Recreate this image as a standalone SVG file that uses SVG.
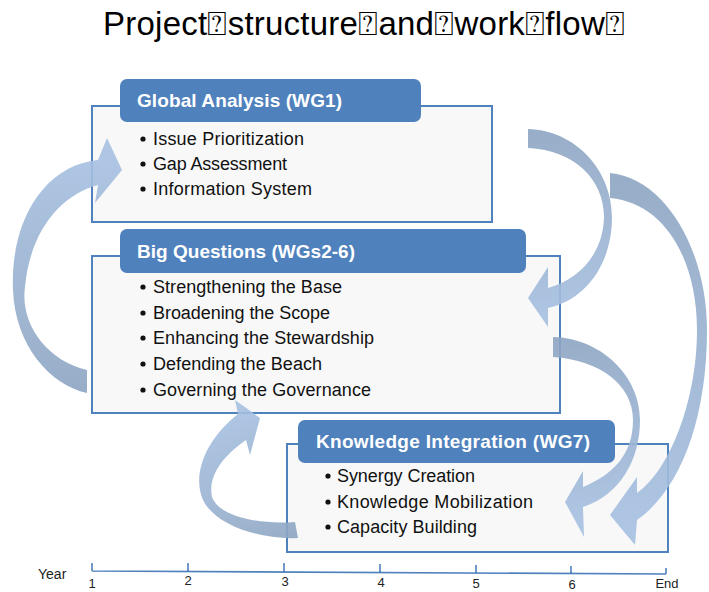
<svg xmlns="http://www.w3.org/2000/svg" width="709" height="592" viewBox="0 0 709 592">
<style>
  .title{font-family:"Liberation Sans",Arial,sans-serif;font-size:33px;fill:#000}
  .frame{fill:#f8f8f8;stroke:#4f81bd;stroke-width:2}
  .hdr{fill:#4f81bd}
  .hdrt{font-family:"Liberation Sans",Arial,sans-serif;font-size:19px;font-weight:bold;fill:#fff}
  .item{font-family:"Liberation Sans",Arial,sans-serif;font-size:18px;fill:#111}
  .dot{fill:#111}
  .arr{fill-opacity:0.9}
  .axis{stroke:#4f81bd;stroke-width:1.6;fill:none}
  .yr{font-family:"Liberation Sans",Arial,sans-serif;font-size:14px;fill:#222}
  .num{font-family:"Liberation Sans",Arial,sans-serif;font-size:13px;fill:#222;text-anchor:middle}
</style>
<defs>
  <linearGradient id="gA" gradientUnits="userSpaceOnUse" x1="87" y1="390" x2="100" y2="160"><stop offset="0" stop-color="#8da5c2"/><stop offset="1" stop-color="#a6c0e1"/></linearGradient>
  <linearGradient id="gB" gradientUnits="userSpaceOnUse" x1="298" y1="535" x2="240" y2="410"><stop offset="0" stop-color="#8da5c2"/><stop offset="1" stop-color="#a6c0e1"/></linearGradient>
  <linearGradient id="gC" gradientUnits="userSpaceOnUse" x1="540" y1="130" x2="540" y2="320"><stop offset="0" stop-color="#8da5c2"/><stop offset="1" stop-color="#a6c0e1"/></linearGradient>
  <linearGradient id="gD" gradientUnits="userSpaceOnUse" x1="640" y1="180" x2="640" y2="530"><stop offset="0" stop-color="#8da5c2"/><stop offset="1" stop-color="#a6c0e1"/></linearGradient>
  <linearGradient id="gE" gradientUnits="userSpaceOnUse" x1="560" y1="340" x2="570" y2="520"><stop offset="0" stop-color="#8da5c2"/><stop offset="1" stop-color="#a6c0e1"/></linearGradient>
</defs>
<rect width="709" height="592" fill="#fff"/>
<text class="title" x="103" y="35" textLength="522">Project⍰structure⍰and⍰work⍰flow⍰</text>

<g id="global-analysis">
  <rect class="frame" x="92" y="106" width="400" height="116"/>
  <rect class="hdr" x="120" y="79" width="301" height="43" rx="7"/>
  <text class="hdrt" x="137" y="107" textLength="205">Global Analysis (WG1)</text>
  <circle class="dot" cx="143" cy="139" r="2.6"/><text class="item" x="153" y="145" textLength="151">Issue Prioritization</text>
  <circle class="dot" cx="143" cy="164" r="2.6"/><text class="item" x="153" y="170" textLength="134">Gap Assessment</text>
  <circle class="dot" cx="143" cy="189" r="2.6"/><text class="item" x="153" y="195" textLength="159">Information System</text>
</g>

<g id="big-questions">
  <rect class="frame" x="92" y="256" width="468" height="157"/>
  <rect class="hdr" x="120" y="229" width="406" height="44" rx="7"/>
  <text class="hdrt" x="137" y="258" textLength="218">Big Questions (WGs2-6)</text>
  <circle class="dot" cx="143" cy="287" r="2.6"/><text class="item" x="153" y="293" textLength="189">Strengthening the Base</text>
  <circle class="dot" cx="143" cy="313" r="2.6"/><text class="item" x="153" y="319" textLength="177">Broadening the Scope</text>
  <circle class="dot" cx="143" cy="338" r="2.6"/><text class="item" x="153" y="344" textLength="221">Enhancing the Stewardship</text>
  <circle class="dot" cx="143" cy="364" r="2.6"/><text class="item" x="153" y="370" textLength="169">Defending the Beach</text>
  <circle class="dot" cx="143" cy="390" r="2.6"/><text class="item" x="153" y="396" textLength="218">Governing the Governance</text>
</g>

<g id="knowledge-integration">
  <rect class="frame" x="287" y="444" width="381" height="108"/>
  <rect class="hdr" x="298" y="420" width="317" height="43" rx="7"/>
  <text class="hdrt" x="316" y="448" textLength="274">Knowledge Integration (WG7)</text>
  <circle class="dot" cx="328" cy="476" r="2.6"/><text class="item" x="337" y="482" textLength="138">Synergy Creation</text>
  <circle class="dot" cx="328" cy="502" r="2.6"/><text class="item" x="337" y="508" textLength="196">Knowledge Mobilization</text>
  <circle class="dot" cx="328" cy="527" r="2.6"/><text class="item" x="337" y="533" textLength="140">Capacity Building</text>
</g>

<g id="connectors">
  <path class="arr" fill="url(#gA)" d="M87,370 C45,360 20,322 25,287 C30,232 60,195 98,185 L95,203 L122,170 L107,138 L98,160 C45,165 10,220 13,290 C15,345 50,385 87,393 Z"/>
  <path class="arr" fill="url(#gB)" d="M298,538 C260,540 215,525 203,500 C192,475 205,440 238,414 L235,400 L260,418 L250,455 L246,440 C220,458 208,478 212,497 C218,515 255,525 295,522 Z"/>
  <path class="arr" fill="url(#gC)" d="M528,129 C575,130 612,170 612,217 C612,265 585,300 548,308 L548,327 L528,298 L548,267 L548,288 C578,280 603,255 604,217 C604,180 575,150 528,148 Z"/>
  <path class="arr" fill="url(#gD)" d="M610,173 C665,178 707,250 707,330 C707,420 680,490 637,520 L635,545 L610,515 L637,477 L637,493 C670,470 697,400 697,330 C697,260 665,203 610,198 Z"/>
  <path class="arr" fill="url(#gE)" d="M553,337 C600,338 640,375 640,420 C640,460 620,495 583,507 L584,537 L565,502 L583,471 L583,487 C612,475 633,455 633,420 C633,385 600,360 553,357 Z"/>
</g>

<g id="timeline">
  <path class="axis" d="M92,571 L666,574 M92,563 V571 M188,563 V571.5 M284,563 V572 M380,564 V572.5 M476,565 V573 M571,566 V573.5 M666,568 V574"/>
  <text class="yr" x="38" y="579">Year</text>
  <text class="num" x="92" y="588">1</text>
  <text class="num" x="188" y="585">2</text>
  <text class="num" x="285" y="586">3</text>
  <text class="num" x="381" y="587">4</text>
  <text class="num" x="476" y="588">5</text>
  <text class="num" x="572" y="589">6</text>
  <text class="num" x="667" y="588">End</text>
</g>
</svg>
